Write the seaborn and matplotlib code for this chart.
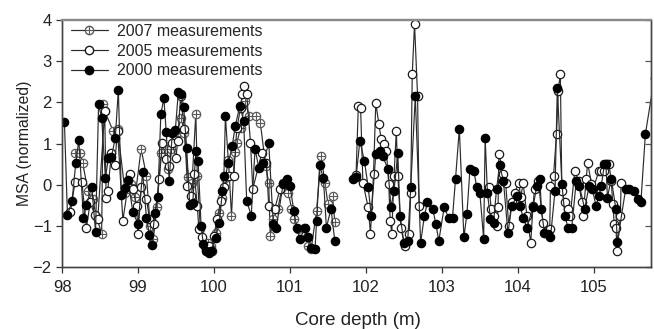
#! /usr/bin/env python
"""
MSA (normalized) against core depth for three measurement campaigns
"""

import numpy as np
import pandas as pd
import seaborn as sns
import matplotlib.pyplot as plt
from matplotlib.lines import Line2D
from matplotlib.legend_handler import HandlerTuple

# a jump in depth larger than this is a core gap: the line is broken there
GAP = 0.15

# 2000 measurements (filled circles)
depth_2000 = [
    98.03, 98.07, 98.13, 98.18, 98.22, 98.28, 98.32, 98.39, 98.44, 98.48,
    98.52, 98.57, 98.61, 98.65, 98.70, 98.74, 98.78, 98.83, 98.87, 98.93,
    99.00, 99.06, 99.11, 99.15, 99.18, 99.22, 99.26, 99.30, 99.34, 99.37,
    99.41, 99.45, 99.49, 99.53, 99.57, 99.60, 99.64, 99.68, 99.72, 99.76,
    99.79, 99.83, 99.86, 99.89, 99.93, 99.96, 100.02, 100.07, 100.11, 100.13,
    100.15, 100.19, 100.24, 100.28, 100.34, 100.39, 100.43, 100.49, 100.54, 100.59,
    100.65, 100.72, 100.78, 100.82, 100.91, 100.96, 101.00, 101.05, 101.09, 101.13,
    101.20, 101.24, 101.28, 101.33, 101.35, 101.39, 101.44, 101.48, 101.54, 101.59,
    101.83, 101.87, 101.92, 101.98, 102.03, 102.07, 102.13, 102.18, 102.22, 102.29,
    102.33, 102.37, 102.42, 102.45, 102.50, 102.55, 102.59, 102.65, 102.72, 102.77,
    102.81, 102.88, 102.92, 102.96, 103.03, 103.09, 103.14, 103.18, 103.23, 103.29,
    103.33, 103.37, 103.42, 103.46, 103.50, 103.55, 103.57, 103.60, 103.64, 103.68,
    103.72, 103.76, 103.81, 103.87, 103.92, 103.99, 104.03, 104.07, 104.12, 104.20,
    104.25, 104.29, 104.31, 104.35, 104.40, 104.43, 104.49, 104.52, 104.58, 104.62,
    104.66, 104.71, 104.77, 104.81, 104.88, 104.94, 104.98, 105.03, 105.07, 105.10,
    105.14, 105.16, 105.18, 105.23, 105.29, 105.31, 105.42, 105.46, 105.53, 105.58,
    105.62, 105.68, 105.80,
]
msa_2000 = [
    1.53, -0.73, -0.40, 0.53, 1.09, -0.80, -0.49, -0.05, -1.14, 1.95,
    1.63, 0.17, 0.66, 0.68, 1.14, 2.30, -0.24, -0.07, 0.12, -0.66,
    -0.95, 0.30, -0.80, -1.22, -1.46, -0.68, -0.29, 1.72, 2.10, 1.29,
    0.10, 1.25, 1.32, 2.25, 2.20, 1.89, 0.89, -0.50, -0.45, 0.82,
    0.58, -1.00, -1.45, -1.62, -1.65, -1.60, -1.29, -0.92, -0.15, 0.22,
    1.67, 0.53, 0.95, 1.43, 1.92, 1.55, -0.39, -0.75, 0.87, 0.41,
    0.53, 1.02, -0.95, -1.04, 0.02, 0.14, -0.02, -0.63, -1.04, -1.31,
    -1.04, -1.28, -1.53, -1.55, -0.87, 0.47, 0.16, -1.04, -0.58, -1.36,
    0.15, 0.18, 1.07, 0.58, -0.06, -0.75, 0.75, 0.82, 0.70, 0.38,
    -0.55, -0.14, 0.77, -0.75, -1.41, -1.36, -0.06, 2.15, -1.41, -0.75,
    -0.43, -0.58, -0.95, -1.36, -0.55, -0.80, -0.80, 0.15, 1.36, -1.28,
    -0.70, 0.38, 0.34, -0.06, -0.20, -1.31, 1.14, -0.20, -0.82, -0.92,
    -0.10, 0.47, 0.10, -1.17, -0.51, -0.27, -0.51, -0.80, -1.04, -0.55,
    -0.02, 0.15, -0.58, -1.17, -1.19, -1.28, -0.14, 2.35, 0.02, -0.75,
    -1.04, -1.04, 0.10, -0.02, -0.58, -0.02, -0.10, -0.51, -0.27, -0.02,
    0.50, 0.50, -0.31, 0.15, -0.58, -1.40, -0.10, -0.10, -0.14, -0.34,
    -0.43, 1.24, 2.60,
]

# 2005 measurements (open circles)
depth_2005 = [
    98.11, 98.17, 98.26, 98.32, 98.37, 98.43, 98.47, 98.56, 98.58, 98.60,
    98.65, 98.69, 98.73, 98.80, 98.89, 98.93, 98.98, 99.00, 99.04, 99.11,
    99.15, 99.21, 99.28, 99.32, 99.37, 99.41, 99.45, 99.50, 99.52, 99.56,
    99.61, 99.65, 99.70, 99.74, 99.78, 99.80, 99.84, 99.89, 99.93, 99.97,
    100.00, 100.04, 100.09, 100.13, 100.20, 100.26, 100.30, 100.35, 100.37, 100.39,
    100.43, 100.48, 100.51, 100.63, 100.69, 100.72, 100.80, 100.87, 100.91,
    101.87, 101.90, 101.93, 101.96, 102.03, 102.06, 102.10, 102.13, 102.17, 102.20,
    102.24, 102.27, 102.30, 102.32, 102.34, 102.37, 102.40, 102.42, 102.46, 102.51,
    102.57, 102.59, 102.61, 102.64, 102.68, 102.70,
    103.62, 103.65, 103.68, 103.72, 103.74, 103.75, 103.81, 103.84, 103.88, 103.92,
    103.96, 104.01, 104.04, 104.07, 104.12, 104.17, 104.20, 104.22, 104.27, 104.33,
    104.38, 104.42, 104.43, 104.47, 104.51, 104.53, 104.56, 104.58, 104.62, 104.66,
    104.69, 104.75, 104.80, 104.84, 104.86, 104.90, 104.92, 104.97, 104.99, 105.07,
    105.10, 105.14, 105.18, 105.20, 105.23, 105.25, 105.27, 105.29, 105.31, 105.35,
    105.36,
]
msa_2005 = [
    -0.65, 0.07, 0.07, -1.04, -0.43, -0.73, -0.82, 1.80, -0.31, -0.15,
    0.77, 0.48, 1.31, -0.87, 0.27, -0.10, -0.51, -1.19, -0.06, -0.34,
    -0.82, -0.95, 0.15, 1.02, 0.63, 0.46, 1.02, 0.65, 1.07, 2.15,
    1.35, -0.02, -0.27, 0.25, -0.51, -1.07, -1.28, -1.55, -1.48, -1.60,
    -1.24, -0.82, -0.39, -0.06, 0.22, 0.22, 1.38, 1.86, 2.20, 2.40,
    2.20, 1.02, -0.10, 0.77, 0.53, -0.51, -0.58, -0.10, 0.05,
    0.24, 1.92, 1.87, 0.05, -0.55, -1.19, 0.27, 1.99, 1.48, 1.12,
    0.99, 0.82, 0.02, -0.87, -1.19, 0.22, 1.31, 0.22, -1.04, -1.48,
    -1.19, -0.19, 2.69, 3.91, 2.16, -0.51,
    -0.06, -0.58, -0.75, -0.99, -0.55, 0.75, 0.27, 0.05, -0.99, -0.43,
    -0.20, 0.05, -0.30, 0.05, -0.75, -1.41, -0.51, -0.10, 0.10, -0.92,
    -1.12, -1.07, -0.02, 0.22, 1.24, 2.28, 2.69, -0.14, -0.43, -0.58,
    -0.75, 0.34, 0.10, -0.43, -0.75, 0.15, 0.53, 0.02, -0.10, 0.34,
    0.34, 0.34, 0.50, 0.50, 0.10, -0.46, -0.95, -1.04, -1.60, -0.75,
    0.05,
]

# 2007 measurements (crossed circles)
depth_2007 = [
    98.17, 98.24, 98.27, 98.34, 98.40, 98.45, 98.52, 98.54, 98.56, 98.67,
    98.73, 98.83, 98.91, 98.96, 99.04, 99.11, 99.16, 99.20, 99.25, 99.30,
    99.35, 99.39, 99.44, 99.50, 99.57, 99.61, 99.66, 99.71, 99.76, 99.78,
    99.82, 99.88, 99.92, 99.96, 100.02, 100.07, 100.11, 100.15, 100.19, 100.23,
    100.27, 100.30, 100.35, 100.41, 100.46, 100.55, 100.61, 100.68, 100.72, 100.74,
    100.78, 100.84, 100.89, 100.98, 101.02, 101.05, 101.11, 101.18, 101.22, 101.24,
    101.28, 101.35, 101.41, 101.46, 101.50, 101.56, 101.59,
]
msa_2007 = [
    0.78, 0.78, 0.53, -0.14, -0.34, -0.75, -1.19, 1.97, 1.80, 1.31,
    1.36, -0.20, 0.02, -0.30, 0.87, 0.22, -0.99, -1.31, -0.55, 0.77,
    0.87, 0.39, 0.87, 1.19, 1.63, 1.26, 0.20, 0.05, 1.72, 0.22,
    -1.07, -1.48, -1.41, -1.48, -1.17, -0.68, -0.31, 0.17, 0.60, -0.75,
    0.80, 1.02, 1.38, 2.04, 1.67, 1.67, 1.50, 0.46, 0.05, -1.24,
    -0.82, -0.60, -0.10, -0.19, -0.58, -0.82, -1.07, -1.04, -1.28, -1.48,
    -1.55, -0.63, 0.70, 0.05, -0.46, -0.27, -0.90,
]

LABELS = ["2007 measurements", "2005 measurements", "2000 measurements"]
LINE = "#2b2b2b"
CROSS = "#5a5a5a"
MS = 6


def frame(depth, msa):
    """Depth/value table with a segment id that breaks the line at core gaps"""
    depth = np.asarray(depth)
    seg = np.concatenate([[0], np.cumsum(np.diff(depth) > GAP)])
    return pd.DataFrame({"depth": depth, "msa": msa, "seg": seg})


def run() -> None:
    sns.set_style("ticks")
    plt.rcParams["font.family"] = ["Liberation Sans", "DejaVu Sans"]

    fig = plt.figure(figsize=(6.54, 3.29), dpi=100)
    ax = fig.add_axes([0.095, 0.188, 0.90, 0.751])

    df07 = frame(depth_2007, msa_2007)
    df05 = frame(depth_2005, msa_2005)
    df00 = frame(depth_2000, msa_2000)

    common = dict(x="depth", y="msa", units="seg", estimator=None, sort=False,
                  color=LINE, lw=0.85, marker="o", markersize=MS,
                  markeredgewidth=0.9, legend=False, ax=ax)

    sns.lineplot(data=df07, markerfacecolor="white", markeredgecolor=CROSS,
                 zorder=2.0, **common)
    sns.scatterplot(data=df07, x="depth", y="msa", marker="+", s=MS ** 2,
                    color=CROSS, linewidth=0.8, zorder=2.05, legend=False, ax=ax)
    sns.lineplot(data=df05, markerfacecolor="white", markeredgecolor="#1a1a1a",
                 zorder=2.1, **common)
    sns.lineplot(data=df00, markerfacecolor="black", markeredgecolor="black",
                 zorder=2.2, **common)

    ax.set_xlim(98, 105.75)
    ax.set_ylim(-2, 4)
    ax.set_xticks(range(98, 106))
    ax.set_yticks(range(-2, 5))
    ax.tick_params(axis="both", direction="out", length=4, width=0.9,
                   labelsize=12, colors="#333333", labelcolor="#222222")
    ax.tick_params(axis="x", pad=5)

    # inward ticks on the right side
    ax2 = ax.twinx()
    ax2.set_ylim(-2, 4)
    ax2.set_yticks(range(-2, 5))
    ax2.tick_params(axis="y", direction="in", length=4, width=0.9,
                    labelright=False, colors="#555555")
    for a in (ax, ax2):
        for side in ["left", "right", "bottom"]:
            a.spines[side].set_color("#444444")
            a.spines[side].set_linewidth(1.0)
        a.spines["top"].set_color("#8a8a8a")
        a.spines["top"].set_linewidth(1.6)

    ax.set_xlabel("Core depth (m)", fontsize=13.5, color="#222222")
    ax.set_ylabel("MSA (normalized)", fontsize=11.3, color="#222222")
    ax.xaxis.set_label_coords(0.503, -0.183)
    ax.yaxis.set_label_coords(-0.052, 0.5)

    h07 = (Line2D([], [], color=LINE, lw=0.85, marker="o", markersize=MS,
                  markerfacecolor="white", markeredgecolor=CROSS),
           Line2D([], [], ls="none", marker="+", markersize=MS,
                  markeredgecolor=CROSS, markeredgewidth=0.8))
    h05 = Line2D([], [], color=LINE, lw=0.85, marker="o", markersize=MS,
                 markerfacecolor="white", markeredgecolor="#1a1a1a")
    h00 = Line2D([], [], color=LINE, lw=0.85, marker="o", markersize=MS,
                 markerfacecolor="black", markeredgecolor="black")
    ax.legend([h07, h05, h00], LABELS, loc="upper left",
              bbox_to_anchor=(0.0, 1.02), frameon=False,
              fontsize=11.5, handlelength=2.3, labelspacing=0.3,
              borderaxespad=0.15, handletextpad=0.6,
              handler_map={tuple: HandlerTuple(ndivide=1)})

    fig.savefig("out.png", dpi=100)


if __name__ == "__main__":
    run()
